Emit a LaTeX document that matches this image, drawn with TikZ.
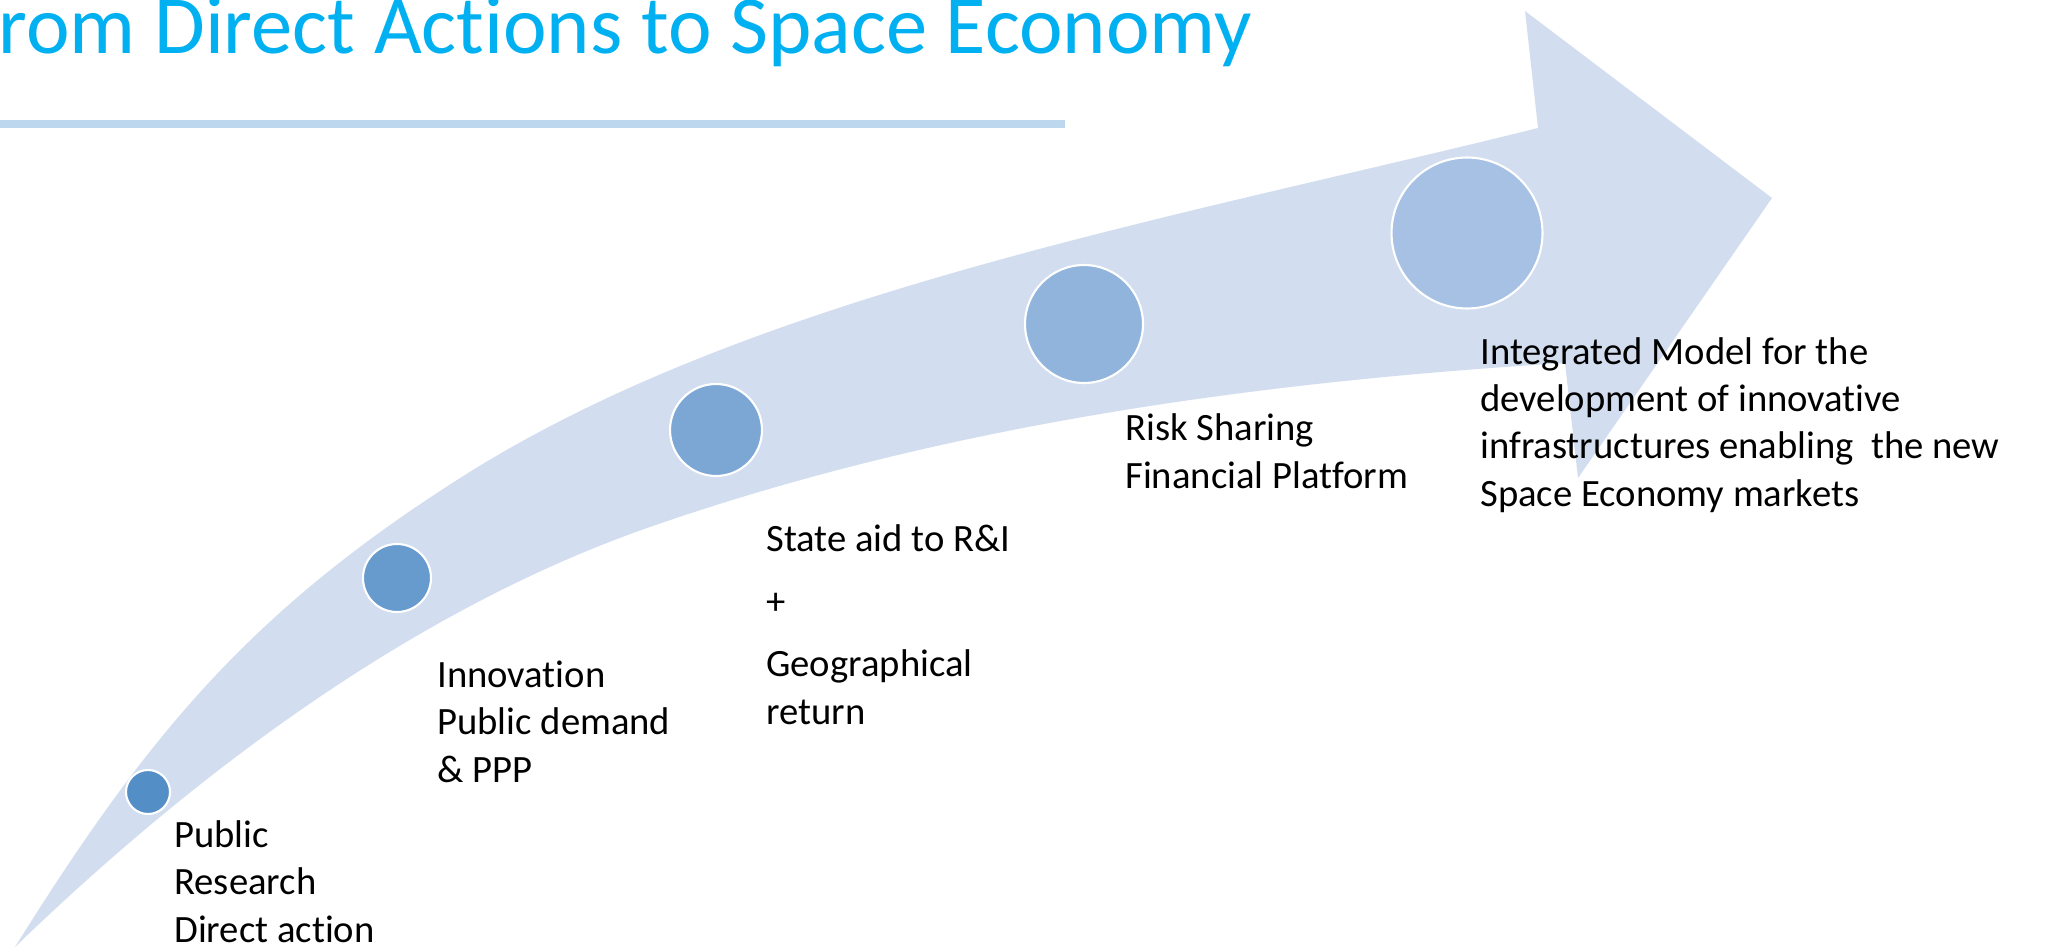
\documentclass[tikz,border=0pt]{standalone}
\usepackage{fontspec}
\setmainfont[Ligatures=NoCommon]{Carlito}
\usetikzlibrary{positioning}

\definecolor{titlecyan}{RGB}{0,176,240}
\definecolor{rulebar}{RGB}{189,215,238}
\definecolor{arrowfill}{RGB}{210,222,239}
\definecolor{dotA}{RGB}{84,142,198}
\definecolor{dotB}{RGB}{103,155,205}
\definecolor{dotC}{RGB}{124,167,212}
\definecolor{dotD}{RGB}{145,180,220}
\definecolor{dotE}{RGB}{166,193,228}

\begin{document}
\begin{tikzpicture}[x=0.02cm,y=-0.02cm]
\tikzstyle{dot}=[circle,draw=white,line width=1.2pt,inner sep=0pt]
\tikzstyle{caption}=[anchor=base west,inner sep=0pt,align=left,
font=\fontsize{22}{26.8}\selectfont]
\useasboundingbox (0,0) rectangle (2056,950);
\clip (0,0) rectangle (2056,950);
%title and bar
\node[anchor=base east,inner sep=0pt,text=titlecyan,
font=\fontsize{47}{56}\selectfont] (title) at (1252,53)
{From Direct Actions to Space Economy};
\fill[rulebar] (0,120) rectangle (1065,128);
%the big curved arrow
\fill[arrowfill] (15,947) .. controls (145,739) and (247,614) .. (457,480)
.. controls (747,294) and (1168,220) .. (1538,128)
-- (1525,11) -- (1772,198) -- (1578,478) -- (1565,363)
.. controls (1255,382) and (943,425) .. (650,527)
.. controls (414,609) and (195,773) .. (15,947) -- cycle;
%stages along the arrow
\node[dot,fill=dotA,minimum size=0.88cm] (research) at (148,792) {};
\node[dot,fill=dotB,minimum size=1.36cm] (innovation) at (397,578) {};
\node[dot,fill=dotC,minimum size=1.84cm] (stateaid) at (716,430) {};
\node[dot,fill=dotD,minimum size=2.36cm] (risk) at (1084,324) {};
\node[dot,fill=dotE,minimum size=3.02cm] (model) at (1467,233) {};
%captions (anchored on the last line)
\node[caption] (researchtxt) at (174,942) {Public\\Research\\Direct action};
\node[caption] (innovationtxt) at (437,782) {Innovation\\Public demand\\\& PPP};
\node[caption] (stateaidtxt) at (766,724)
{State aid to R\&I\\[9pt]+\\[9pt]Geographical\\return};
\node[caption] (risktxt) at (1125,488) {Risk Sharing\\Financial Platform};
\node[caption] (modeltxt) at (1480,506) {Integrated Model for the\\development of innovative\\infrastructures enabling~ the new\\Space Economy markets};
\end{tikzpicture}
\end{document}
